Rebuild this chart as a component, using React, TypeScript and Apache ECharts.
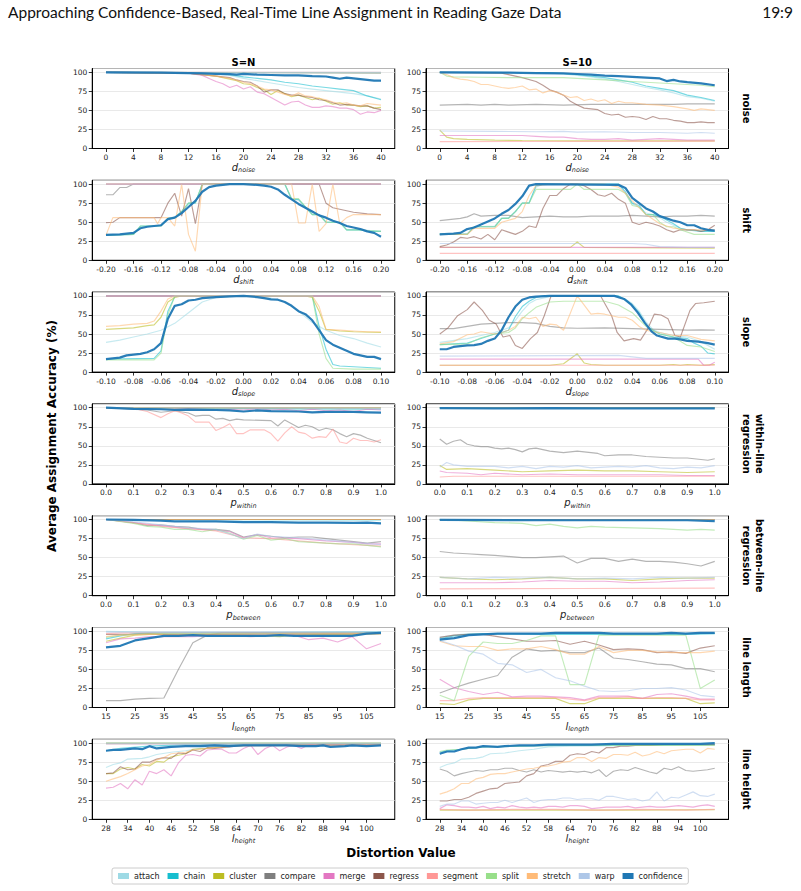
import { useEffect, useRef } from 'react';
import * as echarts from 'echarts';

type Pts = number[][];

const METHODS = ['attach', 'chain', 'cluster', 'compare', 'merge', 'regress', 'segment', 'split', 'stretch', 'warp', 'confidence'];
const COLORS = ['#9edae5', '#17becf', '#bcbd22', '#7f7f7f', '#e377c2', '#8c564b', '#ff9896', '#98df8a', '#ffbb78', '#aec7e8', '#1f77b4'];

const ROW_LABELS = ['noise', 'shift', 'slope', 'within-line\nregression', 'between-line\nregression', 'line length', 'line height'];
const COL_TITLES = ['S=N', 'S=10'];
const X_NAMES = [['d', 'noise'], ['d', 'shift'], ['d', 'slope'], ['p', 'within'], ['p', 'between'], ['l', 'length'], ['l', 'height']];
const X_RANGES = [[-2, 42], [-0.22, 0.22], [-0.11, 0.11], [-0.05, 1.05], [-0.05, 1.05], [10.25, 114.75], [24.2, 107.8]];
const X_DECIMALS = [0, 2, 2, 1, 1, 0, 0];

const noiseTicks = [0, 4, 8, 12, 16, 20, 24, 28, 32, 36, 40];
const shiftTicks = [-0.2, -0.16, -0.12, -0.08, -0.04, 0, 0.04, 0.08, 0.12, 0.16, 0.2];
const slopeTicks = [-0.1, -0.08, -0.06, -0.04, -0.02, 0, 0.02, 0.04, 0.06, 0.08, 0.1];
const pTicks = [0, 0.1, 0.2, 0.3, 0.4, 0.5, 0.6, 0.7, 0.8, 0.9, 1.0];
const lengthTicks = [15, 25, 35, 45, 55, 65, 75, 85, 95, 105];
const heightTicks = [28, 34, 40, 46, 52, 58, 64, 70, 76, 82, 88, 94, 100];
const X_TICKS = [noiseTicks, shiftTicks, slopeTicks, pTicks, pTicks, lengthTicks, heightTicks];

// order of each panel: attach, chain, cluster, compare, merge, regress, segment, split, stretch, warp, confidence
const noiseN: Pts[] = [
  [[0, 100], [14, 99], [16, 98], [18, 96], [20, 92], [22, 89], [24, 86], [26, 83], [28, 80], [30, 78], [32, 76], [34, 74], [36, 72], [38, 69], [40, 65]],
  [[0, 100], [16, 99], [18, 97], [20, 94], [22, 92], [24, 90], [26, 87], [28, 85], [30, 82], [32, 80], [34, 78], [36, 76], [38, 69], [40, 64]],
  [[0, 100], [12, 99], [14, 97], [16, 95], [18, 91], [19, 89], [20, 85], [21, 84], [22, 80], [23, 77], [24, 71], [25, 76], [26, 72], [27, 68], [28, 70], [29, 67], [30, 64], [31, 66], [32, 62], [33, 58], [34, 60], [35, 57], [36, 57], [37, 55], [38, 56], [39, 53], [40, 54]],
  [[0, 100], [40, 99]],
  [[0, 100], [12, 99], [14, 96], [15, 92], [16, 88], [17, 85], [18, 80], [19, 83], [20, 78], [21, 81], [22, 74], [23, 72], [24, 67], [25, 62], [26, 57], [27, 61], [28, 62], [29, 57], [30, 54], [31, 54], [32, 56], [33, 55], [34, 53], [35, 53], [36, 51], [37, 45], [38, 48], [39, 47], [40, 50]],
  [[0, 100], [12, 99], [14, 97], [16, 95], [18, 93], [19, 90], [20, 88], [21, 87], [22, 82], [23, 74], [24, 77], [25, 77], [26, 72], [27, 70], [28, 70], [29, 68], [30, 67], [31, 64], [32, 63], [33, 60], [34, 57], [35, 58], [36, 57], [37, 56], [38, 56], [39, 53], [40, 51]],
  [[0, 100], [40, 100]],
  [[0, 100], [40, 99.5]],
  [[0, 100], [12, 99], [14, 97], [16, 95], [18, 92], [20, 87], [21, 85], [22, 82], [23, 78], [24, 77], [25, 74], [26, 71], [27, 69], [28, 73], [29, 69], [30, 68], [31, 66], [32, 64], [33, 61], [34, 59], [35, 60], [36, 57], [37, 56], [38, 59], [39, 58], [40, 57]],
  [[0, 100], [40, 100]],
  [[0, 100], [8, 99.5], [12, 99], [14, 98.5], [16, 98], [18, 97.5], [19, 97], [20, 98], [22, 97], [24, 96.5], [26, 96], [28, 96], [30, 95], [32, 94.5], [33, 93], [34, 91.5], [35, 93], [36, 92], [37, 91], [38, 90], [39, 89], [40, 89]],
];

const noiseS10: Pts[] = [
  [[0, 100], [14, 99.5], [16, 99], [18, 98], [20, 96], [22, 94], [24, 91], [26, 88], [28, 84], [30, 80], [32, 77], [34, 73], [36, 68], [38, 66], [40, 62]],
  [[0, 100], [16, 99.5], [18, 98.5], [20, 97], [22, 95], [24, 93], [26, 90], [28, 87], [30, 82], [32, 79], [34, 76], [36, 70], [38, 67], [40, 63]],
  [[0, 24], [1, 15], [2, 13], [4, 12], [8, 11], [12, 10.5], [20, 10], [30, 10], [40, 10]],
  [[0, 57], [4, 58], [6, 57], [8, 58], [10, 57], [14, 58], [18, 57], [22, 58], [26, 58], [30, 58], [34, 58], [36, 58.5], [40, 58.5]],
  [[0, 17], [12, 17], [14, 16], [16, 15], [18, 15], [20, 13], [22, 12], [24, 12], [26, 13], [28, 11], [30, 12], [32, 13], [34, 12], [36, 11], [38, 11], [40, 11]],
  [[0, 100], [9, 99], [10, 97], [12, 93], [14, 88], [15, 83], [16, 77], [17, 74], [18, 70], [19, 62], [20, 57], [21, 53], [22, 52], [23, 51], [24, 46], [25, 44], [26, 45], [27, 41], [28, 42], [29, 41], [30, 38], [31, 42], [32, 39], [33, 39], [34, 37], [35, 36], [36, 34], [37, 34], [38, 35], [39, 34], [40, 34]],
  [[0, 9], [40, 9.5]],
  [[0, 100], [1, 95], [2, 94], [6, 93.5], [10, 93], [14, 93], [18, 93], [20, 92], [24, 90], [28, 88], [32, 86], [36, 84], [38, 83], [40, 81]],
  [[0, 100], [1, 97], [2, 93], [3, 91], [4, 90], [5, 88], [6, 84], [7, 84], [8, 82], [9, 80], [10, 79], [11, 80], [12, 82], [13, 77], [14, 78], [15, 73], [16, 76], [17, 74], [18, 70], [19, 67], [20, 68], [21, 63], [22, 65], [23, 62], [24, 64], [25, 59], [26, 62], [27, 60], [28, 60], [30, 58], [32, 57], [34, 55], [36, 52], [37, 50], [38, 52], [40, 50]],
  [[0, 23], [8, 22.5], [14, 22], [18, 22.5], [20, 21.5], [24, 22], [28, 21], [32, 21], [36, 20], [38, 21], [40, 20]],
  [[0, 100], [10, 99.5], [14, 99], [18, 98.5], [20, 97.8], [22, 97], [24, 95.6], [26, 95], [28, 94], [30, 93], [32, 92], [33, 88.5], [34, 90], [35, 88], [36, 87], [38, 85.5], [40, 83]],
];

const shiftN: Pts[] = [
  [[-0.2, 33], [-0.16, 34], [-0.15, 44], [-0.12, 46], [-0.11, 55], [-0.1, 57], [-0.09, 64], [-0.08, 74], [-0.07, 76], [-0.06, 99], [-0.05, 100], [0.06, 100], [0.07, 80], [0.08, 79], [0.09, 70], [0.1, 61], [0.11, 60], [0.12, 50], [0.14, 50], [0.15, 40], [0.17, 40], [0.2, 38]],
  [[-0.2, 33], [-0.16, 34], [-0.15, 45], [-0.12, 45], [-0.11, 55], [-0.1, 56], [-0.09, 64], [-0.08, 75], [-0.07, 75], [-0.06, 100], [0.06, 100], [0.07, 80], [0.08, 80], [0.09, 70], [0.1, 60], [0.11, 60], [0.12, 50], [0.14, 50], [0.15, 40], [0.17, 40], [0.18, 38], [0.2, 38]],
  [[-0.2, 100], [0.2, 100]],
  [[-0.2, 86], [-0.19, 86], [-0.18, 95.5], [-0.17, 95.5], [-0.16, 100], [0.2, 100]],
  [[-0.2, 100], [0.2, 100]],
  [[-0.2, 49.5], [-0.19, 50], [-0.18, 56], [-0.12, 56], [-0.11, 75], [-0.1, 88], [-0.09, 58], [-0.08, 94], [-0.07, 48], [-0.06, 100], [0.11, 100], [0.12, 75], [0.13, 69], [0.14, 67], [0.16, 63], [0.18, 61], [0.2, 60]],
  [[-0.2, 100], [0.2, 100]],
  [[-0.2, 33], [-0.16, 34], [-0.15, 45], [-0.12, 45], [-0.11, 55], [-0.1, 56], [-0.09, 64], [-0.08, 75], [-0.07, 76], [-0.06, 100], [0.06, 100], [0.07, 81], [0.08, 81], [0.09, 70], [0.1, 60], [0.11, 60], [0.12, 50], [0.14, 50], [0.15, 40], [0.17, 40], [0.18, 39], [0.2, 38]],
  [[-0.2, 33], [-0.19, 56], [-0.13, 56], [-0.125, 48], [-0.12, 56], [-0.11, 56], [-0.1, 45], [-0.09, 100], [-0.08, 34], [-0.07, 12], [-0.06, 100], [0.07, 100], [0.08, 49], [0.09, 49], [0.1, 100], [0.11, 38], [0.12, 48], [0.13, 100], [0.14, 48], [0.15, 56], [0.16, 60], [0.2, 60]],
  [[-0.2, 100], [0.2, 100]],
  [[-0.2, 33.5], [-0.18, 34], [-0.17, 35], [-0.16, 36], [-0.15, 42], [-0.14, 44], [-0.13, 45], [-0.12, 46], [-0.11, 54], [-0.1, 56], [-0.09, 62], [-0.08, 70], [-0.07, 78], [-0.06, 90], [-0.05, 96], [-0.04, 98], [-0.03, 99], [-0.02, 100], [0, 100], [0.02, 99], [0.03, 98], [0.04, 96.5], [0.05, 93], [0.06, 86], [0.07, 80], [0.08, 74], [0.09, 69], [0.1, 64], [0.11, 59], [0.12, 56], [0.13, 52], [0.14, 49], [0.15, 45], [0.16, 43], [0.17, 41], [0.18, 38], [0.19, 36], [0.2, 31]],
];

const shiftS10: Pts[] = [
  [[-0.2, 35], [-0.16, 35], [-0.15, 44], [-0.12, 45], [-0.11, 55], [-0.1, 56], [-0.09, 64], [-0.08, 75], [-0.07, 76], [-0.06, 96], [-0.05, 100], [0.06, 100], [0.07, 88], [0.08, 74], [0.09, 70], [0.1, 62], [0.11, 60], [0.12, 56], [0.13, 50], [0.14, 46], [0.15, 42], [0.16, 40], [0.2, 38]],
  [[-0.2, 34], [-0.16, 34], [-0.15, 44], [-0.12, 44], [-0.11, 55], [-0.1, 55], [-0.09, 64], [-0.08, 75], [-0.07, 75], [-0.06, 98], [-0.05, 100], [0.06, 100], [0.07, 90], [0.08, 75], [0.09, 72], [0.1, 60], [0.11, 60], [0.12, 58], [0.13, 53], [0.14, 48], [0.15, 42], [0.16, 40], [0.18, 38], [0.2, 38]],
  [[-0.2, 17], [-0.01, 17], [0, 24], [0.01, 17], [0.2, 16]],
  [[-0.2, 52], [-0.18, 54], [-0.17, 55], [-0.16, 57], [-0.15, 61], [-0.14, 58], [-0.12, 59], [-0.1, 59], [-0.08, 56], [-0.06, 57], [-0.04, 58], [-0.02, 57], [0, 57], [0.02, 58], [0.04, 58], [0.06, 58], [0.08, 59], [0.1, 58], [0.12, 57], [0.14, 58], [0.16, 58], [0.18, 59], [0.2, 58]],
  [[-0.2, 17], [0.2, 17]],
  [[-0.2, 18], [-0.19, 20], [-0.18, 24], [-0.17, 30], [-0.16, 29], [-0.15, 31], [-0.14, 28], [-0.13, 34], [-0.12, 27], [-0.11, 40], [-0.1, 37], [-0.09, 34], [-0.08, 38], [-0.07, 45], [-0.06, 43], [-0.05, 68], [-0.04, 85], [-0.03, 85], [-0.02, 94], [-0.01, 100], [0, 100], [0.01, 98], [0.02, 93], [0.03, 86], [0.04, 84], [0.05, 88], [0.06, 80], [0.07, 75], [0.08, 50], [0.09, 47], [0.1, 50], [0.11, 48], [0.12, 45], [0.13, 40], [0.14, 37], [0.15, 40], [0.16, 40], [0.17, 40], [0.18, 38], [0.19, 40], [0.2, 46]],
  [[-0.2, 9], [0.2, 9]],
  [[-0.2, 34], [-0.16, 34], [-0.15, 44], [-0.12, 44], [-0.11, 55], [-0.1, 55], [-0.09, 64], [-0.08, 75], [-0.07, 75], [-0.06, 93], [-0.01, 93], [0, 100], [0.01, 93], [0.06, 93], [0.07, 88], [0.08, 72], [0.09, 70], [0.1, 60], [0.11, 60], [0.12, 50], [0.13, 44], [0.14, 44], [0.15, 40], [0.17, 34], [0.2, 34]],
  [[-0.2, 34], [-0.16, 34], [-0.15, 42], [-0.12, 42], [-0.11, 50], [-0.09, 55], [-0.08, 64], [-0.07, 85], [-0.06, 98], [-0.04, 100], [0.04, 100], [0.06, 96], [0.07, 88], [0.08, 78], [0.1, 60], [0.12, 48], [0.14, 42], [0.16, 40], [0.18, 40], [0.2, 40]],
  [[-0.2, 22], [0.08, 22], [0.1, 21], [0.12, 18], [0.16, 17], [0.2, 17]],
  [[-0.2, 34], [-0.18, 35], [-0.17, 36], [-0.16, 41], [-0.15, 43], [-0.14, 47], [-0.13, 51], [-0.12, 55], [-0.11, 61], [-0.1, 66], [-0.09, 74], [-0.08, 84], [-0.07, 98], [-0.06, 100], [0.06, 99], [0.07, 95], [0.08, 82], [0.09, 75], [0.1, 68], [0.11, 64], [0.12, 58], [0.13, 55], [0.14, 52], [0.15, 50], [0.16, 46], [0.17, 46], [0.18, 42], [0.19, 40], [0.2, 39]],
];

const slopeN: Pts[] = [
  [[-0.1, 39], [-0.09, 42], [-0.08, 46], [-0.07, 50], [-0.06, 55], [-0.05, 64], [-0.04, 78], [-0.03, 92], [-0.02, 98], [0, 100], [0.02, 97], [0.03, 92], [0.04, 80], [0.05, 65], [0.06, 55], [0.07, 48], [0.08, 44], [0.09, 38], [0.1, 33]],
  [[-0.1, 17], [-0.065, 18], [-0.06, 28], [-0.055, 80], [-0.05, 99], [-0.045, 100], [0.05, 100], [0.055, 60], [0.06, 30], [0.065, 10], [0.07, 8], [0.08, 7], [0.1, 5]],
  [[-0.1, 56], [-0.08, 58], [-0.07, 61], [-0.065, 62], [-0.06, 72], [-0.055, 92], [-0.05, 98], [-0.045, 100], [0.045, 100], [0.05, 98], [0.055, 80], [0.06, 56], [0.07, 54], [0.08, 53], [0.1, 52]],
  [[-0.1, 100], [0.1, 100]],
  [[-0.1, 100], [0.1, 100]],
  [[-0.1, 100], [0.1, 100]],
  [[-0.1, 100], [0.1, 100]],
  [[-0.1, 16], [-0.065, 16], [-0.06, 25], [-0.055, 75], [-0.05, 100], [0.05, 100], [0.055, 50], [0.06, 18], [0.065, 5], [0.08, 4], [0.1, 4]],
  [[-0.1, 60], [-0.09, 61], [-0.08, 63], [-0.07, 64], [-0.065, 67], [-0.06, 80], [-0.055, 96], [-0.05, 100], [0.05, 100], [0.055, 86], [0.06, 56], [0.07, 55], [0.08, 54], [0.09, 53], [0.1, 53]],
  [[-0.1, 100], [0.1, 100]],
  [[-0.1, 17], [-0.095, 18], [-0.09, 19], [-0.085, 22], [-0.08, 23], [-0.075, 24], [-0.07, 26], [-0.065, 30], [-0.06, 38], [-0.055, 70], [-0.05, 87], [-0.045, 89], [-0.04, 94], [-0.035, 95], [-0.03, 97], [-0.02, 98.5], [-0.01, 99.5], [0, 100], [0.01, 98.5], [0.015, 97], [0.02, 95.5], [0.025, 95], [0.03, 92], [0.035, 87], [0.04, 80], [0.045, 76], [0.05, 68], [0.055, 55], [0.06, 42], [0.065, 36], [0.07, 32], [0.075, 28], [0.08, 24], [0.085, 22], [0.09, 20], [0.095, 20], [0.1, 17]],
];

const slopeS10: Pts[] = [
  [[-0.1, 39], [-0.08, 44], [-0.07, 48], [-0.06, 52], [-0.05, 58], [-0.045, 68], [-0.04, 80], [-0.035, 90], [-0.03, 95], [-0.02, 99], [-0.01, 100], [0.03, 100], [0.035, 96], [0.04, 90], [0.045, 80], [0.05, 66], [0.055, 56], [0.06, 52], [0.07, 48], [0.08, 46], [0.09, 40], [0.1, 30]],
  [[-0.1, 36], [-0.08, 38], [-0.07, 44], [-0.06, 50], [-0.055, 52], [-0.05, 55], [-0.045, 73], [-0.04, 86], [-0.035, 93], [-0.03, 98], [-0.025, 100], [0.03, 100], [0.035, 95], [0.04, 88], [0.045, 78], [0.05, 62], [0.055, 55], [0.06, 50], [0.065, 48], [0.07, 46], [0.08, 44], [0.085, 38], [0.09, 34], [0.095, 25], [0.1, 24]],
  [[-0.1, 9], [-0.02, 9], [-0.01, 11], [0, 24], [0.005, 12], [0.01, 10], [0.02, 9], [0.06, 9], [0.07, 10], [0.075, 9], [0.08, 10], [0.09, 9], [0.1, 10]],
  [[-0.1, 57], [-0.09, 57], [-0.08, 60], [-0.07, 63], [-0.06, 64], [-0.05, 65], [-0.04, 65], [-0.03, 64], [-0.02, 60], [-0.01, 58], [0, 57.5], [0.02, 58], [0.04, 57], [0.06, 56], [0.08, 55], [0.09, 55.5], [0.1, 55]],
  [[-0.1, 17], [0.088, 17], [0.092, 9], [0.096, 9], [0.1, 13]],
  [[-0.1, 50], [-0.094, 58], [-0.087, 74], [-0.08, 82], [-0.075, 92], [-0.069, 81], [-0.064, 68], [-0.059, 63], [-0.054, 46], [-0.049, 48], [-0.045, 35], [-0.04, 31], [-0.034, 44], [-0.029, 52], [-0.024, 74], [-0.019, 100], [0.017, 100], [0.025, 74], [0.029, 52], [0.034, 41], [0.041, 44], [0.046, 42], [0.051, 56], [0.056, 76], [0.061, 75], [0.066, 70], [0.071, 48], [0.075, 46], [0.082, 81], [0.086, 90], [0.092, 91], [0.1, 93]],
  [[-0.1, 9], [0.1, 9]],
  [[-0.1, 36], [-0.08, 37], [-0.07, 45], [-0.06, 50], [-0.05, 52], [-0.045, 58], [-0.04, 70], [-0.035, 78], [-0.03, 85], [-0.02, 92], [-0.01, 93], [0.02, 93], [0.03, 88], [0.04, 78], [0.05, 60], [0.06, 50], [0.07, 46], [0.08, 35], [0.09, 33], [0.1, 27]],
  [[-0.1, 37], [-0.09, 40], [-0.08, 49], [-0.075, 50], [-0.07, 53], [-0.06, 50], [-0.055, 52], [-0.05, 55], [-0.045, 60], [-0.04, 72], [-0.035, 70], [-0.03, 72], [-0.025, 60], [-0.02, 63], [-0.015, 62], [-0.01, 55], [0, 100], [0.01, 76], [0.015, 77], [0.02, 76], [0.025, 74], [0.03, 72], [0.035, 72], [0.04, 68], [0.045, 60], [0.05, 55], [0.055, 53], [0.06, 52], [0.07, 48], [0.08, 48], [0.09, 43], [0.1, 41]],
  [[-0.1, 21], [0.03, 22], [0.04, 20], [0.05, 18], [0.1, 18]],
  [[-0.1, 30], [-0.095, 30], [-0.09, 33], [-0.08, 35], [-0.075, 35.5], [-0.07, 37], [-0.065, 41], [-0.06, 44], [-0.055, 55], [-0.05, 72], [-0.045, 86], [-0.04, 95], [-0.035, 98], [-0.03, 99], [-0.02, 100], [0.027, 100], [0.034, 96], [0.039, 89], [0.044, 78], [0.049, 65], [0.054, 53.5], [0.058, 48], [0.066, 44], [0.071, 44], [0.075, 43], [0.08, 41], [0.088, 40], [0.095, 38], [0.1, 36]],
];

const withinN: Pts[] = [
  [[0, 100], [0.2, 99.5], [0.5, 99], [1, 99]],
  [[0, 100], [0.3, 99], [0.6, 98.5], [1, 98]],
  [[0, 100], [1, 100]],
  [[0, 100], [0.1, 98], [0.15, 97], [0.2, 94], [0.25, 96], [0.3, 93], [0.325, 89], [0.35, 90], [0.375, 90], [0.4, 85], [0.425, 86], [0.45, 83], [0.475, 85], [0.5, 84], [0.6, 83], [0.625, 76], [0.65, 84], [0.675, 79], [0.7, 74], [0.725, 77], [0.75, 75], [0.775, 70], [0.8, 73], [0.825, 71], [0.85, 66], [0.875, 62], [0.9, 66], [0.925, 64], [0.95, 60], [0.975, 57], [1, 54]],
  [[0, 100], [0.1, 99], [0.2, 98], [0.3, 99], [0.4, 97], [0.45, 98], [0.5, 97], [0.55, 99], [0.6, 97], [0.65, 98], [0.7, 96], [0.75, 98], [0.8, 96], [0.85, 97], [0.9, 95], [0.95, 98], [1, 97]],
  [[0, 100], [1, 100]],
  [[0, 100], [0.1, 99], [0.15, 95], [0.2, 87], [0.225, 92], [0.25, 96], [0.275, 93], [0.3, 89], [0.325, 81], [0.375, 81], [0.4, 70], [0.425, 74], [0.45, 79], [0.475, 66], [0.5, 66], [0.525, 71], [0.575, 71], [0.6, 66], [0.625, 56], [0.65, 67], [0.675, 75], [0.7, 68], [0.725, 66], [0.75, 60], [0.775, 62], [0.8, 61], [0.825, 72], [0.85, 55], [0.875, 53], [0.9, 60], [0.925, 57], [0.95, 57], [0.975, 55], [1, 58]],
  [[0, 100], [1, 100]],
  [[0, 100], [1, 100]],
  [[0, 100], [1, 99.5]],
  [[0, 100], [0.1, 98.5], [0.2, 98], [0.25, 97], [0.3, 97.5], [0.4, 97], [0.45, 96.5], [0.5, 95], [0.55, 96.5], [0.6, 95.5], [0.7, 95], [0.75, 94], [0.8, 94.5], [0.9, 94.5], [0.95, 94], [1, 93.5]],
];

const withinS10: Pts[] = [
  [[0, 100], [1, 100]],
  [[0, 100], [1, 100]],
  [[0, 24], [0.025, 19], [0.1, 20], [0.2, 18], [0.3, 16], [0.4, 17], [0.5, 18], [0.6, 17], [0.7, 17], [0.8, 16], [0.9, 15], [1, 16]],
  [[0, 59], [0.025, 52], [0.05, 56], [0.075, 58], [0.1, 52], [0.125, 50], [0.15, 49], [0.175, 49], [0.2, 47], [0.225, 46], [0.25, 47], [0.275, 45], [0.3, 42], [0.325, 46], [0.35, 47], [0.375, 45], [0.4, 43], [0.45, 41], [0.5, 43], [0.55, 41], [0.575, 40], [0.6, 37], [0.65, 38], [0.7, 38], [0.75, 36], [0.8, 35], [0.85, 34], [0.9, 34], [0.95, 32], [0.975, 31], [1, 33]],
  [[0, 17], [0.025, 15], [0.1, 14], [0.15, 12], [0.2, 14], [0.3, 12], [0.4, 13], [0.5, 12], [0.6, 12], [0.7, 12], [0.8, 12], [0.9, 11], [1, 11]],
  [[0, 100], [1, 100]],
  [[0, 9], [0.05, 10], [0.5, 10], [1, 10]],
  [[0, 100], [1, 100]],
  [[0, 100], [1, 100]],
  [[0, 22], [0.025, 28], [0.05, 25], [0.1, 23], [0.2, 23], [0.25, 21], [0.3, 23], [0.35, 20], [0.4, 23], [0.45, 22], [0.5, 24], [0.55, 21], [0.6, 22], [0.65, 23], [0.7, 22], [0.75, 24], [0.8, 21], [0.85, 20], [0.9, 22], [0.95, 21], [1, 24]],
  [[0, 99.5], [0.2, 99], [0.4, 99.5], [0.6, 99], [0.8, 99], [1, 99]],
];

const betweenN: Pts[] = [
  [[0, 100], [1, 100]],
  [[0, 100], [1, 99.5]],
  [[0, 100], [1, 100]],
  [[0, 100], [0.05, 98], [0.1, 96], [0.15, 92], [0.2, 93], [0.25, 91], [0.3, 90], [0.35, 87], [0.4, 87], [0.45, 85], [0.5, 77], [0.55, 80], [0.6, 78], [0.65, 76], [0.7, 77], [0.75, 77], [0.8, 75], [0.85, 73], [0.9, 71], [0.95, 69], [1, 71]],
  [[0, 100], [0.1, 96], [0.2, 92], [0.3, 88], [0.4, 86], [0.45, 84], [0.5, 76], [0.55, 80], [0.6, 76], [0.7, 75], [0.8, 72], [0.9, 70], [0.95, 68], [1, 68]],
  [[0, 100], [1, 100]],
  [[0, 100], [0.2, 91], [0.4, 85], [0.5, 76], [0.6, 75], [0.8, 69], [1, 65]],
  [[0, 100], [0.1, 95], [0.15, 91], [0.2, 90], [0.25, 87], [0.3, 87], [0.35, 84], [0.4, 87], [0.45, 82], [0.5, 74], [0.55, 79], [0.6, 73], [0.65, 75], [0.7, 71], [0.75, 70], [0.8, 69], [0.85, 68], [0.9, 68], [0.95, 66], [1, 64]],
  [[0, 100], [1, 100]],
  [[0, 100], [0.1, 97], [0.2, 93], [0.3, 89], [0.4, 87], [0.5, 75], [0.55, 81], [0.6, 78], [0.7, 76], [0.8, 73], [0.9, 70], [1, 67]],
  [[0, 100], [0.1, 99.5], [0.2, 98.5], [0.25, 97.5], [0.4, 97.5], [0.5, 96.5], [0.6, 96.5], [0.7, 96], [0.8, 96], [0.9, 95.5], [0.95, 96], [1, 95]],
];

const betweenS10: Pts[] = [
  [[0, 100], [1, 100]],
  [[0, 100], [1, 100]],
  [[0, 24], [0.1, 22], [0.2, 21], [0.3, 22], [0.4, 24], [0.5, 22], [0.6, 22], [0.7, 20], [0.8, 22], [0.9, 23], [1, 23]],
  [[0, 58], [0.05, 56], [0.1, 55], [0.15, 54], [0.2, 53], [0.3, 50], [0.35, 50], [0.4, 51], [0.45, 52], [0.5, 43], [0.55, 49], [0.6, 49], [0.65, 45], [0.7, 48], [0.75, 45], [0.8, 45], [0.85, 44], [0.9, 42], [0.95, 39], [1, 45]],
  [[0, 17], [0.1, 17], [0.2, 17], [0.3, 18], [0.4, 20], [0.5, 19], [0.6, 19], [0.7, 17], [0.8, 18], [0.9, 20], [1, 21]],
  [[0, 100], [1, 100]],
  [[0, 9], [0.5, 9.5], [1, 10]],
  [[0, 100], [0.1, 98], [0.2, 96], [0.3, 95], [0.35, 92], [0.4, 94], [0.45, 91], [0.5, 89], [0.55, 91], [0.6, 90], [0.7, 89], [0.8, 88], [0.9, 86], [0.95, 87], [1, 86]],
  [[0, 100], [1, 100]],
  [[0, 24], [0.1, 22], [0.2, 24], [0.3, 23], [0.4, 24], [0.5, 22], [0.6, 23], [0.7, 22], [0.8, 24], [0.9, 23], [1, 24]],
  [[0, 99.5], [0.5, 99], [0.9, 99], [1, 98]],
];

const lengthN: Pts[] = [
  [[15, 100], [30, 99], [110, 99]],
  [[15, 90], [20, 94], [25, 97], [30, 98], [110, 99]],
  [[15, 87], [20, 91], [25, 95], [30, 96], [35, 96], [40, 95], [50, 95], [60, 95], [70, 94], [75, 93], [80, 95], [90, 96], [100, 96], [110, 97]],
  [[15, 9], [20, 9], [25, 11], [30, 12], [35, 12.5], [40, 50], [45, 85], [50, 95], [55, 98], [110, 98]],
  [[15, 85], [20, 90], [25, 91], [30, 93], [35, 93], [40, 93], [45, 93], [50, 94], [55, 94], [60, 94], [65, 93], [70, 94], [75, 95], [80, 95], [85, 89], [90, 91], [95, 86], [100, 93], [105, 77], [110, 84]],
  [[15, 96], [25, 96], [30, 97], [35, 96], [50, 96], [110, 97]],
  [[15, 97], [20, 98], [110, 98]],
  [[15, 92], [20, 95], [30, 97], [110, 98]],
  [[15, 93], [20, 95], [30, 96], [60, 96], [110, 97]],
  [[15, 99], [110, 99]],
  [[15, 79], [20, 81], [25, 88], [30, 91], [35, 94], [40, 94], [45, 95], [50, 94], [55, 94], [60, 94], [65, 94], [70, 94], [75, 95], [80, 94], [85, 94], [90, 94], [95, 94], [100, 94], [105, 97], [110, 98]],
];

const lengthS10: Pts[] = [
  [[15, 92], [20, 95], [25, 97], [30, 97], [110, 97]],
  [[15, 90], [20, 94], [25, 96], [30, 97], [50, 96], [60, 96], [100, 96], [110, 97]],
  [[15, 5], [20, 4], [25, 10], [30, 12], [35, 12], [40, 12], [45, 12], [50, 12], [55, 12], [60, 5], [65, 5], [70, 12], [75, 12], [80, 12], [85, 12], [90, 12], [95, 12], [100, 12], [105, 5], [110, 6]],
  [[15, 19], [20, 26], [25, 32], [30, 37], [35, 42], [40, 66], [45, 77], [50, 74], [55, 75], [60, 72], [65, 72], [70, 78], [75, 65], [80, 63], [85, 60], [90, 57], [95, 56], [100, 51], [105, 51], [110, 47]],
  [[15, 37], [20, 26], [25, 21], [30, 17], [35, 20], [40, 14], [45, 15], [50, 15], [55, 14], [60, 13], [65, 10], [70, 15], [75, 15], [80, 15], [85, 12], [90, 17], [95, 18], [100, 15], [105, 11], [110, 11]],
  [[15, 92], [20, 95], [25, 96], [30, 96], [35, 93], [40, 90], [45, 87], [50, 87], [55, 88], [60, 83], [65, 87], [70, 82], [75, 76], [80, 77], [85, 76], [90, 72], [95, 73], [100, 71], [105, 78], [110, 81]],
  [[15, 9], [20, 9], [25, 12], [30, 13], [35, 13], [40, 13], [45, 13], [50, 13], [55, 13], [60, 11], [65, 9], [70, 13], [75, 13], [80, 14], [85, 12], [90, 13], [95, 13], [100, 12], [105, 10], [110, 10]],
  [[15, 16], [20, 9], [25, 67], [30, 86], [35, 84], [40, 84], [45, 88], [50, 94], [55, 94], [60, 30], [65, 30], [70, 95], [75, 95], [80, 95], [85, 95], [90, 95], [95, 95], [100, 95], [105, 25], [110, 36]],
  [[15, 87], [20, 81], [25, 80], [30, 80], [35, 75], [40, 77], [45, 77], [50, 80], [55, 76], [60, 70], [65, 70], [70, 80], [75, 72], [80, 75], [85, 75], [90, 73], [95, 72], [100, 72], [105, 72], [110, 74]],
  [[15, 88], [20, 82], [25, 74], [30, 70], [35, 58], [40, 56], [45, 46], [50, 50], [55, 39], [60, 35], [65, 28], [70, 22], [75, 21], [80, 22], [85, 25], [90, 25], [95, 26], [100, 23], [105, 16], [110, 14]],
  [[15, 89], [20, 91], [25, 95], [30, 96], [35, 97], [40, 97], [45, 97], [50, 97], [55, 98], [60, 98], [65, 98], [70, 98], [75, 97], [80, 97], [85, 97], [90, 97], [95, 98], [100, 97], [105, 98], [110, 98]],
];

const heightN: Pts[] = [
  [[28, 68], [30, 72], [32, 74], [34, 79], [38, 80], [40, 82], [42, 85], [46, 88], [50, 90], [54, 93], [58, 95], [64, 97], [70, 98], [104, 99]],
  [[28, 90], [32, 93], [40, 96], [50, 98], [104, 99]],
  [[28, 60], [30, 60], [32, 66], [34, 68], [36, 66], [38, 72], [40, 70], [42, 76], [44, 75], [46, 82], [48, 84], [50, 86], [52, 92], [56, 93], [60, 95], [64, 97], [104, 98]],
  [[28, 100], [104, 100]],
  [[28, 41], [30, 42], [32, 47], [34, 40], [36, 52], [38, 45], [40, 63], [42, 60], [44, 65], [46, 57], [48, 74], [50, 84], [52, 85], [54, 83], [56, 91], [58, 92], [60, 92], [62, 87], [64, 87], [66, 93], [68, 97], [70, 85], [72, 93], [74, 97], [76, 90], [78, 95], [80, 97], [82, 93], [84, 98], [88, 97], [92, 98], [96, 97], [100, 98], [104, 97]],
  [[28, 60], [30, 61], [32, 69], [34, 65], [36, 66], [38, 75], [40, 75], [42, 79], [44, 81], [46, 80], [48, 87], [50, 86], [52, 91], [54, 89], [56, 94], [58, 93], [62, 95], [66, 97], [104, 98]],
  [[28, 99], [104, 99]],
  [[28, 100], [104, 100]],
  [[28, 50], [30, 53], [32, 56], [34, 60], [36, 65], [38, 70], [40, 72], [42, 78], [44, 81], [46, 86], [48, 87], [50, 88], [52, 91], [56, 93], [60, 95], [64, 96], [104, 98]],
  [[28, 99], [104, 99]],
  [[28, 90], [30, 91], [32, 91], [34, 92], [36, 93], [38, 92], [40, 96], [42, 93], [44, 94], [46, 95], [50, 96], [54, 96], [58, 97], [62, 96], [66, 97], [70, 97], [74, 97], [78, 97], [82, 96], [86, 96], [88, 97], [90, 95], [94, 96], [96, 97], [100, 96], [104, 97]],
];

const heightS10: Pts[] = [
  [[28, 68], [30, 72], [32, 74], [34, 79], [38, 80], [40, 82], [42, 86], [46, 87], [50, 90], [54, 92], [58, 95], [64, 96], [104, 98]],
  [[28, 88], [30, 90], [34, 92], [40, 95], [50, 96], [60, 97], [104, 98]],
  [[28, 12], [40, 12], [60, 12], [80, 12], [104, 12.5]],
  [[28, 66], [30, 63], [32, 57], [34, 60], [36, 62], [38, 64], [40, 63], [42, 65], [44, 65], [46, 67], [48, 67], [50, 64], [52, 62], [54, 65], [56, 62], [58, 64], [60, 63], [62, 62], [64, 63], [66, 62], [68, 63], [70, 61], [72, 65], [74, 56], [76, 63], [78, 65], [80, 64], [82, 68], [84, 65], [86, 62], [88, 60], [90, 67], [92, 65], [94, 69], [96, 64], [98, 63], [100, 64], [102, 65], [104, 67]],
  [[28, 14], [30, 19], [32, 18], [34, 16], [36, 16], [38, 15], [40, 17], [42, 14], [44, 16], [46, 15], [48, 18], [50, 16], [52, 15], [54, 16], [56, 15], [58, 17], [60, 17], [62, 16], [64, 18], [66, 18], [68, 17], [70, 14], [72, 15], [74, 16], [76, 16], [78, 16], [80, 17], [82, 15], [84, 16], [86, 17], [88, 16], [90, 16], [92, 17], [94, 18], [96, 17], [98, 16], [100, 18], [102, 19], [104, 17]],
  [[28, 24], [30, 24], [32, 26], [34, 26], [36, 29], [38, 34], [40, 37], [42, 40], [44, 41], [46, 47], [48, 48], [50, 49], [52, 57], [54, 60], [56, 70], [58, 72], [60, 76], [62, 76], [64, 84], [66, 86], [68, 85], [70, 89], [72, 87], [74, 94], [76, 94], [78, 96], [80, 96], [82, 97], [86, 97], [90, 98], [104, 98]],
  [[28, 13], [36, 12], [48, 13], [60, 13], [72, 12], [84, 13], [96, 12], [104, 13]],
  [[28, 89], [30, 91], [34, 92], [40, 95], [50, 96], [60, 97], [104, 97]],
  [[28, 33], [30, 36], [32, 40], [34, 47], [36, 47], [38, 53], [40, 55], [42, 59], [44, 60], [46, 60], [48, 62], [50, 64], [52, 66], [54, 67], [56, 69], [58, 70], [60, 72], [62, 75], [64, 76], [66, 81], [68, 81], [70, 76], [72, 81], [74, 80], [76, 85], [78, 85], [80, 84], [82, 88], [84, 83], [86, 85], [88, 89], [90, 86], [92, 90], [94, 91], [96, 92], [98, 92], [100, 87], [102, 93], [104, 92]],
  [[28, 17], [30, 20], [32, 20], [34, 24], [36, 24], [38, 20], [40, 21], [42, 22], [44, 22], [46, 25], [48, 22], [50, 25], [52, 28], [54, 22], [56, 25], [58, 26], [60, 26], [62, 28], [64, 28], [66, 26], [68, 27], [70, 27], [72, 25], [74, 30], [76, 30], [78, 28], [80, 26], [82, 27], [84, 24], [86, 26], [88, 36], [90, 24], [92, 29], [94, 28], [96, 32], [98, 36], [100, 31], [102, 30], [104, 33]],
  [[28, 86], [30, 89], [32, 89], [34, 92], [36, 94], [38, 94], [40, 96], [44, 95], [46, 96], [50, 97], [54, 97], [58, 98], [64, 98], [70, 98], [76, 99], [82, 99], [88, 99], [94, 99], [100, 99], [104, 100]],
];

const PANELS = [
  [noiseN, noiseS10],
  [shiftN, shiftS10],
  [slopeN, slopeS10],
  [withinN, withinS10],
  [betweenN, betweenS10],
  [lengthN, lengthS10],
  [heightN, heightS10],
];

const FONT = 'DejaVu Sans';
const COL_LEFT = [92.25, 426];
const PLOT_W = 302.5;
const PLOT_H = 80;
const ROW_TOP = 68.5;
const ROW_STEP = 111.8;

export default function App() {
  const chartRef = useRef<HTMLDivElement>(null);

  useEffect(() => {
    if (!chartRef.current) return;
    const chart = echarts.init(chartRef.current, null, { renderer: 'svg' });

    const grid: any[] = [];
    const xAxis: any[] = [];
    const yAxis: any[] = [];
    const series: any[] = [];
    const graphic: any[] = [];

    PANELS.forEach((row, r) => {
      row.forEach((panel, c) => {
        const idx = r * 2 + c;
        grid.push({
          left: COL_LEFT[c],
          top: ROW_TOP + ROW_STEP * r,
          width: PLOT_W,
          height: PLOT_H,
          show: true,
          borderColor: '#000',
          borderWidth: 1,
          backgroundColor: 'transparent',
          outerBoundsMode: 'none',
        });
        const dec = X_DECIMALS[r];
        xAxis.push({
          type: 'value',
          gridIndex: idx,
          min: X_RANGES[r][0],
          max: X_RANGES[r][1],
          name: `{a|${X_NAMES[r][0]}}{b|${X_NAMES[r][1]}}`,
          nameLocation: 'middle',
          nameGap: 11,
          nameTextStyle: {
            rich: {
              a: { fontFamily: FONT, fontStyle: 'italic', fontSize: 10, color: '#222' },
              b: { fontFamily: FONT, fontStyle: 'italic', fontSize: 6.5, color: '#222', padding: [6, 0, 0, 0] },
            },
          },
          axisLine: { show: true, onZero: false, lineStyle: { color: '#000', width: 1 } },
          axisTick: { show: true, length: 3.5, customValues: X_TICKS[r], lineStyle: { color: '#000', width: 0.8 } },
          axisLabel: {
            customValues: X_TICKS[r],
            formatter: (v: number) => v.toFixed(dec),
            fontFamily: FONT,
            fontSize: 7.5,
            color: '#222',
            margin: 5,
          },
          splitLine: { show: false },
        });
        yAxis.push({
          type: 'value',
          gridIndex: idx,
          min: 0,
          max: 105,
          interval: 25,
          axisLine: { show: true, onZero: false, lineStyle: { color: '#000', width: 1 } },
          axisTick: { show: true, length: 3.5, lineStyle: { color: '#000', width: 0.8 } },
          axisLabel: { fontFamily: FONT, fontSize: 7.5, color: '#222', margin: 5 },
          splitLine: { show: true, lineStyle: { color: '#e3e3e3', width: 0.8 } },
        });
        panel.forEach((pts, m) => {
          const conf = METHODS[m] === 'confidence';
          series.push({
            type: 'line',
            name: METHODS[m],
            xAxisIndex: idx,
            yAxisIndex: idx,
            data: pts,
            symbol: 'none',
            silent: true,
            z: conf ? 4 : 2,
            itemStyle: { color: COLORS[m] },
            lineStyle: { color: COLORS[m], width: conf ? 2.2 : 1.15, opacity: conf ? 0.95 : 0.58 },
            emphasis: { disabled: true },
          });
        });
      });
      graphic.push({
        type: 'text',
        x: 740,
        y: ROW_TOP + ROW_STEP * r + PLOT_H / 2,
        rotation: -Math.PI / 2,
        style: {
          text: ROW_LABELS[r],
          fontFamily: FONT,
          fontSize: 10,
          fontWeight: 'bold',
          lineHeight: 13,
          fill: '#000',
          align: 'center',
          textAlign: 'center',
          verticalAlign: 'bottom',
          textVerticalAlign: 'bottom',
        },
      });
    });

    COL_TITLES.forEach((t, c) => {
      graphic.push({
        type: 'text',
        x: COL_LEFT[c] + PLOT_W / 2,
        y: 62,
        style: {
          text: t, fontFamily: FONT, fontSize: 10, fontWeight: 'bold', fill: '#000',
          align: 'center', textAlign: 'center', verticalAlign: 'middle', textVerticalAlign: 'middle',
        },
      });
    });

    graphic.push(
      {
        type: 'text',
        x: 8,
        y: 12,
        style: {
          text: 'Approaching Confidence-Based, Real-Time Line Assignment in Reading Gaze Data',
          fontFamily: 'Lato', fontSize: 15.5, fill: '#111',
          align: 'left', textAlign: 'left', verticalAlign: 'middle', textVerticalAlign: 'middle',
        },
      },
      {
        type: 'text',
        x: 793,
        y: 12,
        style: {
          text: '19:9', fontFamily: 'Lato', fontSize: 15.5, fill: '#111',
          align: 'right', textAlign: 'right', verticalAlign: 'middle', textVerticalAlign: 'middle',
        },
      },
      {
        type: 'text',
        x: 52,
        y: 436,
        rotation: Math.PI / 2,
        style: {
          text: 'Average Assignment Accuracy (%)', fontFamily: FONT, fontSize: 12, fontWeight: 'bold', fill: '#000',
          align: 'center', textAlign: 'center', verticalAlign: 'middle', textVerticalAlign: 'middle',
        },
      },
      {
        type: 'text',
        x: 401,
        y: 853,
        style: {
          text: 'Distortion Value', fontFamily: FONT, fontSize: 12, fontWeight: 'bold', fill: '#000',
          align: 'center', textAlign: 'center', verticalAlign: 'middle', textVerticalAlign: 'middle',
        },
      },
    );

    chart.setOption({
      animation: false,
      grid,
      xAxis,
      yAxis,
      series,
      graphic,
      legend: {
        data: METHODS,
        left: 112,
        top: 868,
        icon: 'rect',
        itemWidth: 11,
        itemHeight: 6,
        itemGap: 8,
        padding: [4, 6],
        borderColor: '#cccccc',
        borderWidth: 1,
        borderRadius: 2,
        selectedMode: false,
        textStyle: { fontFamily: FONT, fontSize: 8, color: '#222' },
      },
    });

    return () => {
      chart.dispose();
    };
  }, []);

  return (
    <div
      ref={chartRef}
      style={{ position: 'absolute', left: 0, top: 0, width: '801px', height: '891px', background: '#fff' }}
    />
  );
}
